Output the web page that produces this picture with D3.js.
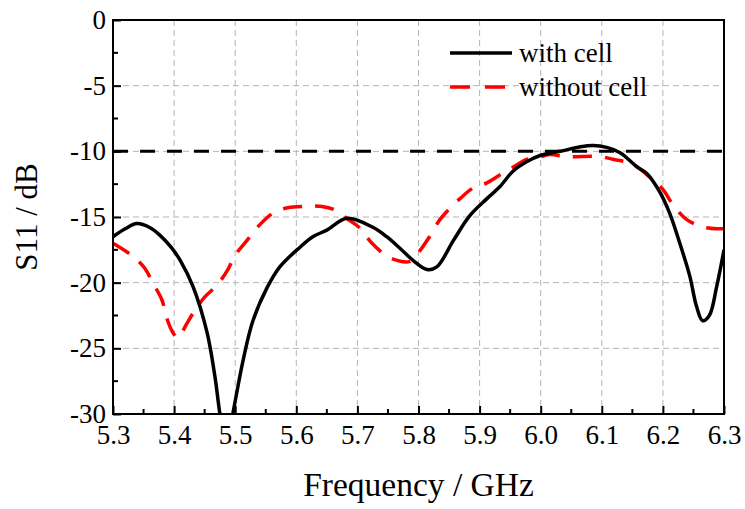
<!DOCTYPE html>
<html>
<head>
<meta charset="utf-8">
<script src="https://cdn.jsdelivr.net/npm/d3@7"></script>
<style>
  body { margin: 0; background: #fff; }
</style>
</head>
<body>
<div id="chart"></div>
<script>
// with cell (black, solid)
const freqWith = [5.300, 5.320, 5.339, 5.360, 5.377, 5.395, 5.410, 5.431, 5.454, 5.467, 5.475, 5.485, 5.496, 5.513, 5.529, 5.552, 5.573, 5.606, 5.627, 5.650, 5.683, 5.726, 5.748, 5.770, 5.791, 5.814, 5.830, 5.857, 5.884, 5.912, 5.933, 5.955, 5.977, 6.000, 6.032, 6.065, 6.086, 6.108, 6.130, 6.158, 6.174, 6.195, 6.211, 6.227, 6.244, 6.255, 6.265, 6.276, 6.288, 6.300];
const s11With = [-16.5, -15.9, -15.5, -15.8, -16.4, -17.3, -18.3, -20.3, -23.8, -27.2, -30.0, -32.5, -30.0, -25.9, -22.9, -20.4, -18.8, -17.3, -16.5, -16.0, -15.1, -15.8, -16.5, -17.4, -18.3, -19.0, -18.8, -16.8, -14.9, -13.6, -12.7, -11.5, -10.8, -10.3, -10.0, -9.65, -9.55, -9.7, -10.1, -11.2, -11.7, -13.1, -14.7, -16.9, -19.5, -21.8, -22.9, -22.5, -20.3, -17.5];

// without cell (red, dashed)
const freqWithout = [5.300, 5.333, 5.352, 5.365, 5.380, 5.388, 5.398, 5.406, 5.421, 5.434, 5.450, 5.470, 5.488, 5.500, 5.519, 5.540, 5.562, 5.586, 5.615, 5.642, 5.665, 5.682, 5.703, 5.722, 5.746, 5.765, 5.785, 5.800, 5.818, 5.835, 5.848, 5.868, 5.889, 5.912, 5.933, 5.955, 5.978, 6.000, 6.015, 6.043, 6.097, 6.118, 6.151, 6.184, 6.200, 6.217, 6.239, 6.269, 6.293, 6.300];
const s11Without = [-17.0, -18.0, -18.9, -20.0, -21.3, -22.7, -23.8, -24.2, -23.1, -22.1, -21.1, -20.2, -19.0, -17.9, -16.8, -15.6, -14.7, -14.3, -14.2, -14.2, -14.5, -15.1, -15.8, -16.9, -17.9, -18.3, -18.4, -17.7, -16.5, -15.2, -14.5, -13.6, -12.8, -12.4, -11.8, -11.2, -10.6, -10.4, -10.25, -10.4, -10.4, -10.6, -11.0, -12.2, -12.9, -14.1, -15.2, -15.8, -15.9, -15.9];

const xTicks = [5.3, 5.4, 5.5, 5.6, 5.7, 5.8, 5.9, 6.0, 6.1, 6.2, 6.3];
const yTicks = [0, -5, -10, -15, -20, -25, -30];
const refLevel = -10;

const width = 745, height = 509;
const margin = {left: 113, right: 21, top: 20, bottom: 95};
const serif = "'Liberation Serif', 'Times New Roman', Times, serif";

const svg = d3.select("#chart").append("svg")
  .attr("width", width).attr("height", height);

const x = d3.scaleLinear().domain([5.3, 6.3]).range([margin.left, width - margin.right]);
const y = d3.scaleLinear().domain([-30, 0]).range([height - margin.bottom, margin.top]);

svg.append("clipPath").attr("id", "plotClip")
  .append("rect")
  .attr("x", x(5.3)).attr("y", y(0))
  .attr("width", x(6.3) - x(5.3)).attr("height", y(-30) - y(0));

// grid
const grid = svg.append("g");
grid.selectAll(".vg").data(xTicks.slice(1, -1)).enter().append("line")
  .attr("x1", d => x(d)).attr("x2", d => x(d))
  .attr("y1", y(0)).attr("y2", y(-30))
  .attr("stroke", "#b4b4b4").attr("stroke-width", 1).attr("stroke-dasharray", "6,4");
grid.selectAll(".hg").data(yTicks.slice(1, -1)).enter().append("line")
  .attr("x1", x(5.3)).attr("x2", x(6.3))
  .attr("y1", d => y(d)).attr("y2", d => y(d))
  .attr("stroke", "#b4b4b4").attr("stroke-width", 1).attr("stroke-dasharray", "6,4");

// -10 dB reference
svg.append("line")
  .attr("x1", x(5.3)).attr("x2", x(6.3))
  .attr("y1", y(refLevel)).attr("y2", y(refLevel))
  .attr("stroke", "#000").attr("stroke-width", 3).attr("stroke-dasharray", "15,12");

const line = d3.line().x(d => x(d[0])).y(d => y(d[1])).curve(d3.curveCatmullRom.alpha(0.5));

svg.append("path")
  .datum(d3.zip(freqWithout, s11Without))
  .attr("clip-path", "url(#plotClip)")
  .attr("d", line).attr("fill", "none")
  .attr("stroke", "#ff0000").attr("stroke-width", 3.5).attr("stroke-dasharray", "19,13");

svg.append("path")
  .datum(d3.zip(freqWith, s11With))
  .attr("clip-path", "url(#plotClip)")
  .attr("d", line).attr("fill", "none")
  .attr("stroke", "#000").attr("stroke-width", 3.5);

// axes
const xAxis = d3.axisBottom(x).tickValues(xTicks).tickSizeInner(-8).tickSizeOuter(0).tickPadding(10)
  .tickFormat(d => d.toFixed(1));
const gx = svg.append("g").attr("transform", `translate(0,${y(-30)})`).call(xAxis);
const yAxis = d3.axisLeft(y).tickValues(yTicks).tickSizeInner(-8).tickSizeOuter(0).tickPadding(8)
  .tickFormat(d => String(d));
const gy = svg.append("g").attr("transform", `translate(${x(5.3)},0)`).call(yAxis);

[gx, gy].forEach(g => {
  g.attr("font-family", null).attr("font-size", null);
  g.select(".domain").remove();
  g.selectAll(".tick line").attr("stroke", "#000").attr("stroke-width", 2);
  g.selectAll("text").attr("fill", "#000")
    .style("font-family", serif).style("font-size", "27px");
});
gx.selectAll("text").attr("dy", "0.71em").attr("y", 11);
gy.selectAll("text").attr("dy", "0.32em").attr("x", -7);

// minor ticks
const minorX = d3.range(5.35, 6.3, 0.1);
svg.selectAll(".mx").data(minorX).enter().append("line")
  .attr("x1", d => x(d)).attr("x2", d => x(d))
  .attr("y1", y(-30)).attr("y2", y(-30) - 5)
  .attr("stroke", "#000").attr("stroke-width", 2);
const minorY = [-2.5, -7.5, -12.5, -17.5, -22.5, -27.5];
svg.selectAll(".my").data(minorY).enter().append("line")
  .attr("x1", x(5.3)).attr("x2", x(5.3) + 5)
  .attr("y1", d => y(d)).attr("y2", d => y(d))
  .attr("stroke", "#000").attr("stroke-width", 2);

// frame
svg.append("rect")
  .attr("x", x(5.3)).attr("y", y(0))
  .attr("width", x(6.3) - x(5.3)).attr("height", y(-30) - y(0))
  .attr("fill", "none").attr("stroke", "#000").attr("stroke-width", 2);

// axis titles
svg.append("text")
  .attr("x", (x(5.3) + x(6.3)) / 2).attr("y", 496)
  .attr("text-anchor", "middle")
  .style("font-family", serif).style("font-size", "33.5px")
  .text("Frequency / GHz");
svg.append("text")
  .attr("transform", `translate(37,${(y(0) + y(-30)) / 2}) rotate(-90)`)
  .attr("text-anchor", "middle")
  .style("font-family", serif).style("font-size", "31px")
  .text("S11 / dB");

// legend
const legend = [
  {label: "with cell", color: "#000", dash: null, y: 53},
  {label: "without cell", color: "#ff0000", dash: "20,15", y: 87}
];
const lg = svg.append("g");
legend.forEach(l => {
  lg.append("line")
    .attr("x1", 450).attr("x2", 512).attr("y1", l.y).attr("y2", l.y)
    .attr("stroke", l.color).attr("stroke-width", 3.5)
    .attr("stroke-dasharray", l.dash);
  lg.append("text")
    .attr("x", 519).attr("y", l.y + 9)
    .style("font-family", serif).style("font-size", "27px")
    .text(l.label);
});
</script>
</body>
</html>
